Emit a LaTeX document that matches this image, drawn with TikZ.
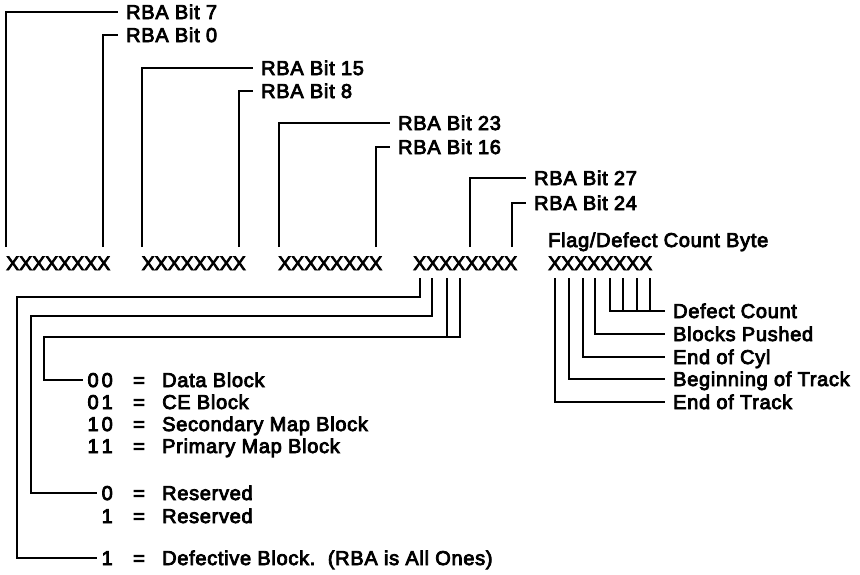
\documentclass[tikz,border=0pt]{standalone}
\usepackage{fontspec}
\setmainfont{Liberation Sans}[LetterSpace=3.5,FakeBold=4]
\newfontfamily\xfont{Liberation Sans}[FakeBold=4]
\begin{document}
\begin{tikzpicture}[x=1pt,y=-1pt,
  ln/.style={line width=1.8pt},
  lab/.style={anchor=west,inner xsep=8pt,inner ysep=0pt,text height=14pt,text depth=0pt,font=\fontsize{20}{24}\selectfont},
  xrow/.style={anchor=west,inner sep=0pt,text height=14pt,text depth=0pt,font=\xfont\fontsize{19.5}{24}\selectfont},
  num/.style={anchor=east,inner xsep=4pt,inner ysep=0pt,text height=14pt,text depth=0pt,font=\fontsize{20}{24}\selectfont},
  eqs/.style={anchor=center,inner sep=0pt,text height=14pt,text depth=0pt,font=\fontsize{20}{24}\selectfont},
  desc/.style={anchor=west,inner sep=0pt,text height=14pt,text depth=0pt,font=\fontsize{20}{24}\selectfont}]
\useasboundingbox (0,0) rectangle (860,574);

% byte rows
\node[xrow] (byte1) at (6,263) {XXXXXXXX};
\node[xrow] (byte2) at (141.5,263) {XXXXXXXX};
\node[xrow] (byte3) at (278,263) {XXXXXXXX};
\node[xrow] (byte4) at (413,263) {XXXXXXXX};
\node[xrow] (flag) at (548,263) {XXXXXXXX};
\node[desc] (flagt) at (548,240) {Flag/Defect Count Byte};

% top labels
\node[lab] (r7) at (118,12) {RBA Bit 7};
\node[lab] (r0) at (118,35) {RBA Bit 0};
\node[lab] (r15) at (253,68) {RBA Bit 15};
\node[lab] (r8) at (253,91) {RBA Bit 8};
\node[lab] (r23) at (390,123) {RBA Bit 23};
\node[lab] (r16) at (390,147) {RBA Bit 16};
\node[lab] (r27) at (526,178) {RBA Bit 27};
\node[lab] (r24) at (526,203) {RBA Bit 24};

\coordinate (t7) at (6,247);
\coordinate (t0) at (103,247);
\coordinate (t15) at (142,247);
\coordinate (t8) at (239,247);
\coordinate (t23) at (279,247);
\coordinate (t16) at (376,247);
\coordinate (t27) at (470,247);
\coordinate (t24) at (512,247);

\draw[ln] (t7) |- (r7.west);
\draw[ln] (t0) |- (r0.west);
\draw[ln] (t15) |- (r15.west);
\draw[ln] (t8) |- (r8.west);
\draw[ln] (t23) |- (r23.west);
\draw[ln] (t16) |- (r16.west);
\draw[ln] (t27) |- (r27.west);
\draw[ln] (t24) |- (r24.west);

% left list
\node[num] (n00) at (117,380) {0\kern3pt0};
\node[num] (n01) at (117,402) {0\kern3pt1};
\node[num] (n10) at (117,424) {1\kern3pt0};
\node[num] (n11) at (117,446) {1\kern3pt1};
\node[num] (n0r) at (117,493) {0};
\node[num] (n1r) at (117,516) {1};
\node[num] (n1d) at (117,558) {1};
\foreach \y/\n in {380/a,402/b,424/c,446/d,493/e,516/f,558/g}
  \node[eqs] (eq\n) at (139,\y) {=};
\node[desc] (s00) at (162,380) {Data Block};
\node[desc] (s01) at (162,402) {CE Block};
\node[desc] (s10) at (162,424) {Secondary Map Block};
\node[desc] (s11) at (162,446) {Primary Map Block};
\node[desc] (s0r) at (162,493) {Reserved};
\node[desc] (s1r) at (162,516) {Reserved};
\node[desc] (s1d) at (162,558) {Defective Block.\ \ (RBA is All Ones)};

\coordinate (q0) at (420,278);
\coordinate (q1) at (432,278);
\coordinate (q2) at (447,278);
\coordinate (q3) at (460,278);
\coordinate (k0) at (17,297);
\coordinate (k1) at (31,316);
\coordinate (k2) at (44,337);

\draw[ln] (q0) |- (k0) |- (n1d.west);
\draw[ln] (q1) |- (k1) |- (n0r.west);
\draw[ln] (q3) |- (k2) |- (n00.west);
\draw[ln] (q2) -- (q2 |- k2);

% flag bits
\node[lab] (dc) at (665,311) {Defect Count};
\node[lab] (bp) at (665,334) {Blocks Pushed};
\node[lab] (ec) at (665,357) {End of Cyl};
\node[lab] (bt) at (665,379) {Beginning of Track};
\node[lab] (et) at (665,402) {End of Track};

\coordinate (f0) at (555,278);
\coordinate (f1) at (569,278);
\coordinate (f2) at (583,278);
\coordinate (f3) at (595,278);
\coordinate (f4) at (610,278);
\coordinate (f5) at (623,278);
\coordinate (f6) at (637,278);
\coordinate (f7) at (650,278);

\draw[ln] (f0) |- (et.west);
\draw[ln] (f1) |- (bt.west);
\draw[ln] (f2) |- (ec.west);
\draw[ln] (f3) |- (bp.west);
\draw[ln] (f4) |- (dc.west);
\draw[ln] (f5) -- (f5 |- dc.west);
\draw[ln] (f6) -- (f6 |- dc.west);
\draw[ln] (f7) -- (f7 |- dc.west);
\end{tikzpicture}
\end{document}
